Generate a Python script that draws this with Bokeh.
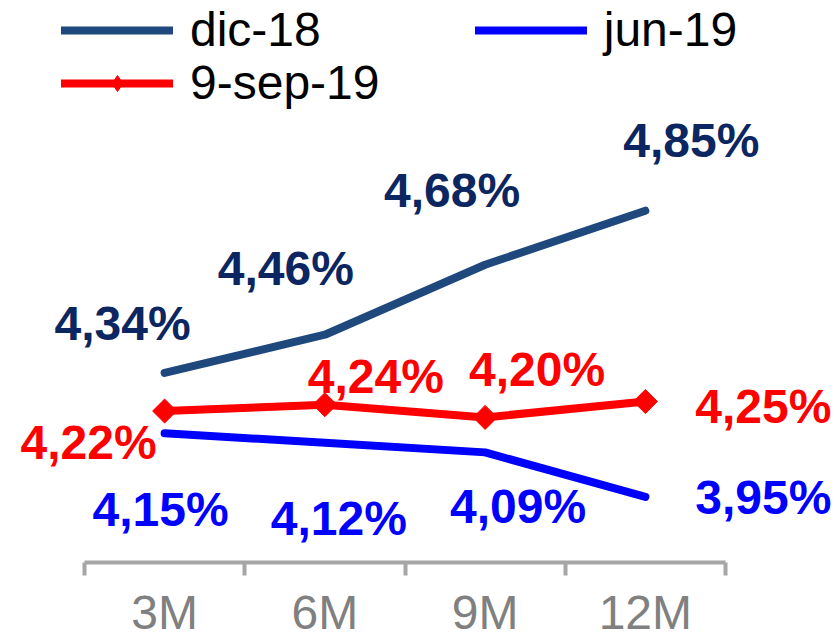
import math

from bokeh.core.properties import value
from bokeh.embed import file_html
from bokeh.models import ColumnDataSource, FixedTicker, Legend, LegendItem, Range1d
from bokeh.plotting import figure
from bokeh.resources import INLINE

# Tenor buckets and rate curves (%)
tenors = ["3M", "6M", "9M", "12M"]
dic_18 = [4.34, 4.46, 4.68, 4.85]
jun_19 = [4.15, 4.12, 4.09, 3.95]
sep_19 = [4.22, 4.24, 4.20, 4.25]

# Label placement relative to each point (screen px, +y is up)
dic_dx = [-42, -39, -33, 46]
dic_dy = [49, 66, 74, 70]
sep_dx = [-76, 51, 52, 118]
sep_dy = [-31, 28, 48, -5]
jun_dx = [-4, 14, 33, 118]
jun_dy = [-76, -76, -54, -1]

FONT = "Liberation Sans"
DIC_LINE = "#1F497D"
DIC_TEXT = "#0B2660"
JUN = "#0000FF"
SEP = "#FF0000"

xs = [i + 0.5 for i in range(len(tenors))]


def fmt(v):
    return f"{v:.2f}".replace(".", ",") + "%"


def make_source(vals, dx, dy):
    return ColumnDataSource(dict(
        x=xs, y=vals, label=[fmt(v) for v in vals], dx=dx, dy=[-d for d in dy],
    ))


p = figure(
    width=839, height=641,
    output_backend="svg", toolbar_location=None,
    x_range=Range1d(-0.5242, 4.7114),
    y_range=Range1d(3.7437, 5.5110),
    min_border_left=0, min_border_right=0, min_border_top=0, min_border_bottom=79,
    outline_line_color=None,
)
p.background_fill_color = "white"
p.border_fill_color = "white"
p.xgrid.visible = False
p.ygrid.visible = False
p.yaxis.visible = False

# Category axis: boundary ticks between buckets, names centred in each bucket
ax = p.xaxis[0]
ax.ticker = FixedTicker(ticks=xs, minor_ticks=list(range(len(tenors) + 1)))
ax.major_label_overrides = {x: t for x, t in zip(xs, tenors)}
ax.bounds = (0, len(tenors))
ax.axis_line_color = "#A6A6A6"
ax.axis_line_width = 4
ax.major_tick_in = 0
ax.major_tick_out = 0
ax.minor_tick_in = 0
ax.minor_tick_out = 13
ax.minor_tick_line_color = "#A6A6A6"
ax.minor_tick_line_width = 4
ax.major_label_standoff = 10
ax.major_label_text_font = FONT
ax.major_label_text_font_size = "48px"
ax.major_label_text_color = "#808080"

src_dic = make_source(dic_18, dic_dx, dic_dy)
src_jun = make_source(jun_19, jun_dx, jun_dy)
src_sep = make_source(sep_19, sep_dx, sep_dy)

r_dic = p.line("x", "y", source=src_dic, line_color=DIC_LINE, line_width=8,
               line_cap="round", line_join="round")
r_jun = p.line("x", "y", source=src_jun, line_color=JUN, line_width=8,
               line_cap="round", line_join="round")
r_sep = p.line("x", "y", source=src_sep, line_color=SEP, line_width=8,
               line_cap="round", line_join="round")
# small diamond core (used for the legend swatch) under the larger rotated-square markers
r_sep_core = p.scatter("x", "y", source=src_sep, marker="diamond", size=14,
                       fill_color=SEP, line_color=SEP)
r_sep_pts = p.scatter("x", "y", source=src_sep, marker="square", size=17,
                      angle=math.pi / 4, fill_color=SEP, line_color=SEP)

for src, col in ((src_dic, DIC_TEXT), (src_sep, SEP), (src_jun, JUN)):
    p.text("x", "y", text="label", source=src, x_offset="dx", y_offset="dy",
           text_align="center", text_baseline="middle",
           text_font=value(FONT), text_font_style="bold",
           text_font_size="48px", text_color=col)


def legend(items, loc, spacing=0):
    lg = Legend(
        items=items, location=loc, orientation="horizontal",
        glyph_width=112, glyph_height=40, label_standoff=17, spacing=spacing,
        padding=0, margin=0, border_line_alpha=0, background_fill_alpha=0,
        label_text_font=FONT, label_text_font_size="48px", label_text_color="black",
    )
    p.add_layout(lg, "center")


legend([LegendItem(label="dic-18", renderers=[r_dic]),
        LegendItem(label="jun-19", renderers=[r_jun])], (61, 505), spacing=154)
legend([LegendItem(label="9-sep-19", renderers=[r_sep, r_sep_core])], (61, 452))

open("out.html", "w").write(file_html(p, INLINE))
